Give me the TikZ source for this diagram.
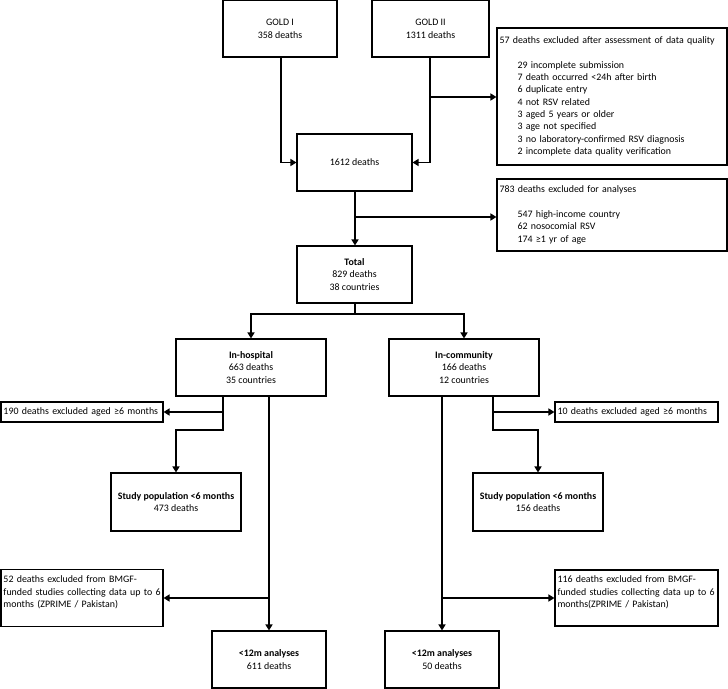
\documentclass[tikz,border=0pt]{standalone}
\usepackage{fontspec}
\setmainfont{Carlito}
\usetikzlibrary{arrows.meta}
\begin{document}
\begin{tikzpicture}[x=1bp,y=-1bp,
  box/.style={draw, line width=1.1bp, inner sep=0pt, align=center,
    font=\fontsize{9.9bp}{12.3bp}\selectfont},
  lbox/.style={draw, line width=1.1bp, inner xsep=2.5bp, inner ysep=0pt, align=left,
    font=\fontsize{9.9bp}{12.3bp}\selectfont},
  arr/.style={line width=1.8bp, -{Triangle[length=6bp,width=7bp]}},
  ln/.style={line width=1.8bp}]
\useasboundingbox (0,0) rectangle (728,689);

\node[box, minimum width=114bp, minimum height=56.5bp] (gold1) at (280,28.75) {GOLD I\\358 deaths};
\node[box, minimum width=117bp, minimum height=56.5bp] (gold2) at (430.5,28.75) {GOLD II\\1311 deaths};
\node[box, minimum width=115bp, minimum height=57bp] (n1612) at (354.5,162.5) {1612 deaths};
\node[lbox, text width=225bp, minimum height=137bp] (excl1) at (612,96.5)
  {57 deaths excluded after assessment of data quality\\[12.3bp]
   \hspace*{18bp}29 incomplete submission\\
   \hspace*{18bp}7 death occurred <24h after birth\\
   \hspace*{18bp}6 duplicate entry\\
   \hspace*{18bp}4 not RSV related\\
   \hspace*{18bp}3 aged 5 years or older\\
   \hspace*{18bp}3 age not specified\\
   \hspace*{18bp}3 no laboratory-confirmed RSV diagnosis\\
   \hspace*{18bp}2 incomplete data quality verification};
\node[lbox, text width=225bp, minimum height=72bp] (excl2) at (612,215)
  {783 deaths excluded for analyses\\[12.3bp]
   \hspace*{18bp}547 high-income country\\
   \hspace*{18bp}62 nosocomial RSV\\
   \hspace*{18bp}174 ≥1 yr of age};
\node[box, minimum width=115bp, minimum height=57bp] (total) at (354.5,274.5) {\textbf{Total}\\829 deaths\\38 countries};
\node[box, minimum width=150bp, minimum height=57bp] (inhosp) at (251,367.5) {\textbf{In-hospital}\\663 deaths\\35 countries};
\node[box, minimum width=150bp, minimum height=57bp] (incomm) at (464,367.5) {\textbf{In-community}\\166 deaths\\12 countries};
\node[lbox, text width=157bp, minimum height=20bp] (ex190) at (82,412) {\mbox{190 deaths excluded aged ≥6 months}};
\node[lbox, text width=158bp, minimum height=20bp] (ex10) at (636.5,412) {\mbox{10 deaths excluded aged ≥6 months}};
\node[box, minimum width=130bp, minimum height=58bp] (study1) at (176,502) {\textbf{Study population <6 months}\\473 deaths};
\node[box, minimum width=130bp, minimum height=58bp] (study2) at (538,502) {\textbf{Study population <6 months}\\156 deaths};
\node[lbox, text width=157bp, minimum height=57bp] (ex52) at (82,598)
  {\mbox{52 deaths excluded from BMGF-}\\\mbox{funded studies collecting data up to 6}\\\mbox{months (ZPRIME / Pakistan)}\\\mbox{}};
\node[lbox, text width=158bp, minimum height=56bp] (ex116) at (636.5,598)
  {\mbox{116 deaths excluded from BMGF-}\\\mbox{funded studies collecting data up to 6}\\\mbox{months(ZPRIME / Pakistan)}\\\mbox{}};
\node[box, minimum width=114bp, minimum height=57bp] (lt12a) at (269,659.5) {\textbf{<12m analyses}\\611 deaths};
\node[box, minimum width=114bp, minimum height=57bp] (lt12b) at (442,659.5) {\textbf{<12m analyses}\\50 deaths};

% top
\coordinate (g1) at (281,57);
\coordinate (g2) at (430,57);
\draw[arr] (g1) |- (n1612.west);
\draw[arr] (g2) |- (n1612.east);
\coordinate (b1) at (430,97);
\draw[arr] (b1) -- (b1 -| excl1.west);
\coordinate (b2) at (355,217);
\coordinate (n1s) at (355,191);
\draw[arr] (n1s) -- (n1s |- total.north);
\draw[arr] (b2) -- (b2 -| excl2.west);
% split
\coordinate (ts) at (355,303);
\coordinate (tb) at (355,314);
\draw[ln] (ts) -- (tb);
\draw[arr] (tb) -| (inhosp.north);
\draw[arr] (tb) -| (incomm.north);
% in-hospital
\coordinate (h1) at (223,396);
\coordinate (h1b) at (223,430);
\draw[arr] (h1) -- (h1b) -| (study1.north);
\draw[arr] (h1 |- ex190.east) -- (ex190.east);
\coordinate (h2) at (269,396);
\draw[arr] (h2) -- (lt12a.north);
\draw[arr] (h2 |- ex52.east) -- (ex52.east);
% in-community
\coordinate (c1) at (493,396);
\coordinate (c1b) at (493,430);
\draw[arr] (c1) -- (c1b) -| (study2.north);
\draw[arr] (c1 |- ex10.west) -- (ex10.west);
\coordinate (c2) at (442,396);
\draw[arr] (c2) -- (lt12b.north);
\draw[arr] (c2 |- ex116.west) -- (ex116.west);
\end{tikzpicture}
\end{document}
